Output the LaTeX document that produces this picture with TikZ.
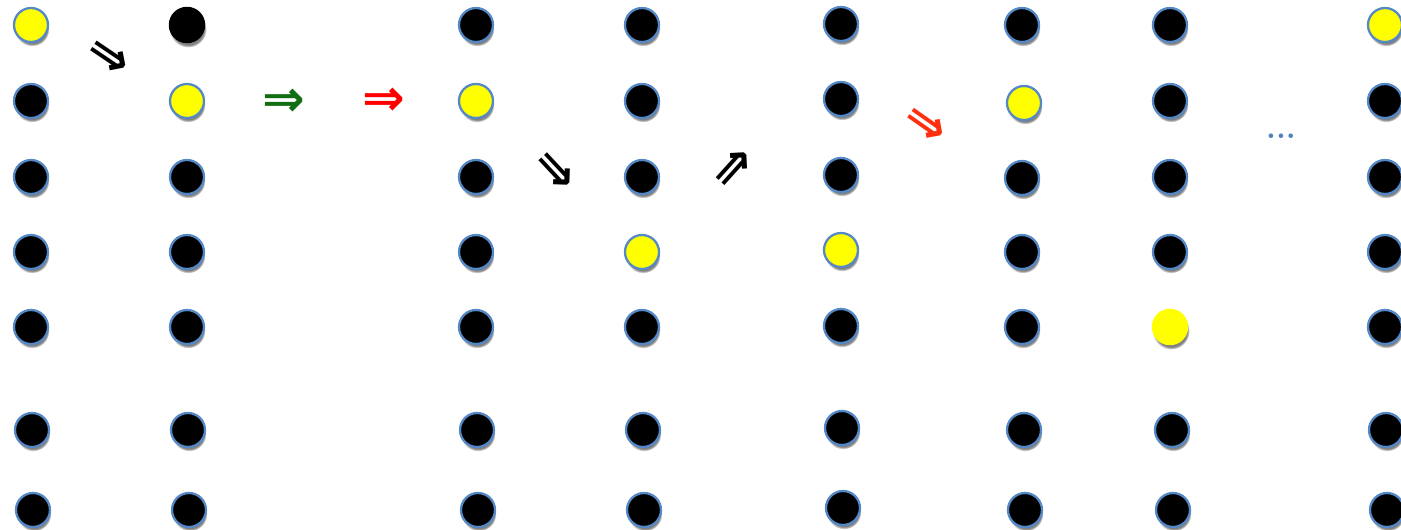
\documentclass[tikz,border=0pt]{standalone}
\usepackage{fontspec}
\newfontfamily\arrowfont{DejaVu Sans}
\usetikzlibrary{shadows}
\definecolor{rim}{RGB}{84,136,198}
\definecolor{lamp}{RGB}{255,255,0}
\definecolor{gomv}{RGB}{18,110,18}
\definecolor{redmv}{RGB}{255,0,0}
\definecolor{orgmv}{RGB}{255,48,16}
\definecolor{moreblue}{RGB}{79,129,189}
\tikzset{
  bd/.style={circle, draw=rim, line width=1.3pt, fill=black, minimum size=0.68cm, inner sep=0pt,
    circular drop shadow={shadow xshift=0.6pt, shadow yshift=-2.2pt, shadow scale=1.02}},
  yd/.style={bd, fill=lamp},
  bn/.style={bd, draw=none, minimum size=0.73cm},
  yn/.style={bn, fill=lamp},
  mv/.style={font=\arrowfont\bfseries\fontsize{29}{29}\selectfont, inner sep=0pt},
}

\begin{document}
\begin{tikzpicture}[x=0.02cm, y=-0.02cm]
\useasboundingbox (0,0) rectangle (1401,530);
% columns of sites, top to bottom
\foreach \x/\y/\s [count=\r] in {31/25/yd, 31/101/bd, 31/177/bd, 31/252/bd, 31/327/bd, 32/430/bd, 33/510/bd}
  \node[\s] (a\r) at (\x,\y) {};
\foreach \x/\y/\s [count=\r] in {187/25/bn, 187/101/yd, 187/177/bd, 187/252/bd, 187/327/bd, 188/430/bd, 189/510/bd}
  \node[\s] (b\r) at (\x,\y) {};
\foreach \x/\y/\s [count=\r] in {476/25/bd, 476/101/yd, 476/177/bd, 476/252/bd, 476/327/bd, 477/430/bd, 478/510/bd}
  \node[\s] (c\r) at (\x,\y) {};
\foreach \x/\y/\s [count=\r] in {642/25/bd, 642/101/bd, 642/177/bd, 642/252/yd, 642/327/bd, 643/430/bd, 644/510/bd}
  \node[\s] (d\r) at (\x,\y) {};
\foreach \x/\y/\s [count=\r] in {841/24/bd, 841/99/bd, 841/175/bd, 841/250/yd, 841/326/bd, 842/428/bd, 843/508/bd}
  \node[\s] (e\r) at (\x,\y) {};
\foreach \x/\y/\s [count=\r] in {1022/25/bd, 1024/103/yd, 1022/178/bd, 1022/252/bd, 1022/327/bd, 1024/430/bd, 1025/510/bd}
  \node[\s] (f\r) at (\x,\y) {};
\foreach \x/\y/\s [count=\r] in {1170/25/bd, 1170/101/bd, 1170/177/bd, 1170/252/bd, 1170/327/yn, 1172/430/bd, 1173/510/bd}
  \node[\s] (g\r) at (\x,\y) {};
\foreach \x/\y/\s [count=\r] in {1385/25/yd, 1385/101/bd, 1385/177/bd, 1385/252/bd, 1385/327/bd, 1386/430/bd, 1387/510/bd}
  \node[\s] (h\r) at (\x,\y) {};
% moves
\node[mv, rotate=-34] (m1) at (108,58) {⇒};
\node[mv, text=gomv] (m2) at (284,103) {⇒};
\node[mv, text=redmv] (m3) at (384,102) {⇒};
\node[mv, rotate=-47] (m4) at (554,172) {⇒};
\node[mv, rotate=48] (m5) at (735,169) {⇒};
\node[mv, text=orgmv, rotate=-35] (m6) at (925,125) {⇒};
\node[font=\fontsize{18}{18}\selectfont\bfseries, text=moreblue, inner sep=0pt] (more) at (1281,136) {...};
\end{tikzpicture}
\end{document}
